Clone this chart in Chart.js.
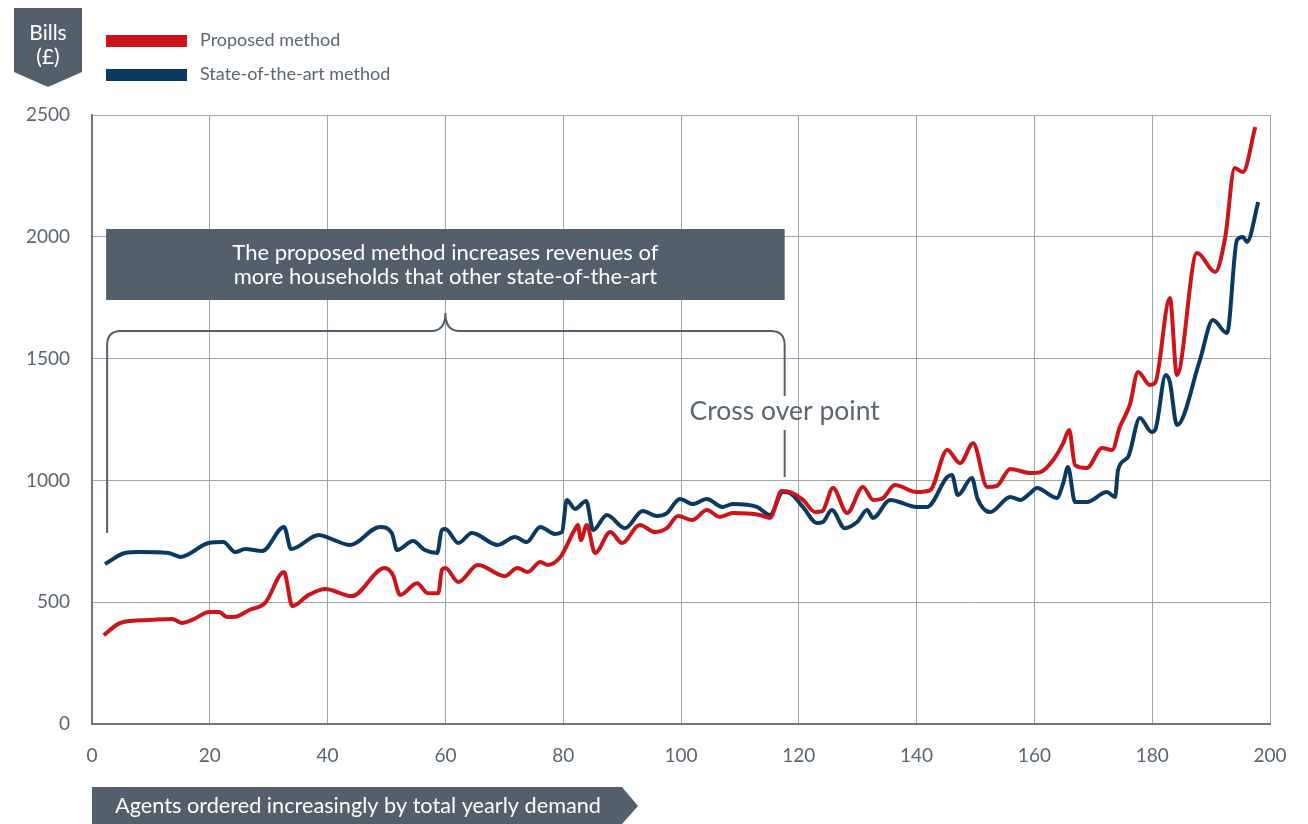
<!DOCTYPE html>
<html>
<head>
<meta charset="utf-8">
<script src="https://cdn.jsdelivr.net/npm/chart.js@4"></script>
<style>
  body { margin: 0; background: #fff; }
  canvas { display: block; }
</style>
</head>
<body>
<canvas id="myChart" width="1308" height="824"></canvas>
<script>
// agents (x) and bills (£)
var propX = [2,4.4,6.5,9.8,13.6,15.3,17,19.9,21.6,22.9,24.3,26.7,29.4,32.6,34,36.8,39.6,44.1,49.7,51.1,52.3,55.2,57,58.8,59.4,60,62.2,65.5,70.1,72.2,74,76.1,77.4,79.5,82,82.5,83,84,85.4,88,90,93,95.6,97.6,99.5,101.9,104.4,106.6,108.8,113.4,115.1,117.1,118.5,120.7,122.8,124,125.8,128.2,130.9,132.6,134.1,136.3,140,142.3,145.2,147.4,149.6,152,153.6,155.9,159.3,161,163.2,164.9,165.9,166.9,168.9,171.5,173.2,174.5,176.2,177.6,179.6,180.5,183,184.2,187.6,190.7,192.4,194,195.4,197.5];
var propY = [365,410,423,427,431,415,427,460,460,439,440,468,497,624,484,530,554,525,640,611,530,578,537,537,632,640,583,653,607,640,624,665,653,685,800,817,755,817,702,788,743,817,788,804,854,837,878,850,866,858,846,956,952,920,870,874,969,866,973,920,924,981,952,960,1125,1071,1153,973,977,1047,1030,1034,1084,1153,1207,1063,1051,1133,1125,1219,1310,1445,1392,1400,1749,1433,1933,1856,1999,2282,2266,2451];

var sotaX = [2.2,5.6,8,13,15,19.8,22.3,24.3,26,28.9,32.6,33.8,38.5,40.7,43.8,48.9,50.9,51.8,54.5,56.5,58.6,59.4,60,62.2,64.5,68.9,71.8,73.8,76.1,78.6,79.8,80.6,82,83.9,85.1,87.4,90.5,93.5,95.9,97.6,99.8,102,104.4,107,108.8,112.9,115.1,117.3,118.5,120.7,123.1,124.1,125.6,127.8,129.9,131.6,132.6,135.5,140,141.8,145.2,146,147,149.4,150.3,152.5,155.9,157.6,159.3,160.4,163.8,164.9,165.7,166.9,168.9,172.3,173.7,174.2,175.9,177.9,179.9,180.5,182.3,183,184.2,188.1,190.3,192.7,194.4,195.4,196.1,198];
var sotaY = [657,702,706,702,686,743,747,706,718,710,809,718,776,759,735,809,784,714,751,714,702,796,800,743,784,735,768,747,809,780,788,920,883,915,796,858,804,874,854,866,924,903,924,891,903,891,858,952,948,891,825,829,878,804,829,878,846,920,891,891,1014,1022,940,1010,928,870,932,920,948,969,928,989,1055,911,911,952,932,1043,1096,1256,1199,1207,1433,1404,1227,1494,1658,1605,1987,1999,1979,2143];

var seriesNames = ["Proposed method", "State-of-the-art method"];
var xTicks = [0, 20, 40, 60, 80, 100, 120, 140, 160, 180, 200];
var yTicks = [0, 500, 1000, 1500, 2000, 2500];

var RED = "#cc151b";
var BLUE = "#0b3960";
var SLATE = "#535f6b";
var TEXT = "#5a6570";
var FONT = "Lato, 'Open Sans', sans-serif";

function pts(xs, ys) {
  return xs.map(function (x, i) { return {x: x, y: ys[i]}; });
}

var extras = {
  id: "extras",
  afterDraw: function (chart) {
    var ctx = chart.ctx;
    var xs = chart.scales.x;
    ctx.save();

    // Bills (£) tag
    ctx.fillStyle = SLATE;
    ctx.beginPath();
    ctx.moveTo(14, 8);
    ctx.lineTo(82, 8);
    ctx.lineTo(82, 72);
    ctx.lineTo(48, 87);
    ctx.lineTo(14, 72);
    ctx.closePath();
    ctx.fill();
    ctx.fillStyle = "#fff";
    ctx.font = "21px " + FONT;
    ctx.textAlign = "center";
    ctx.textBaseline = "middle";
    ctx.fillText("Bills", 48, 33);
    ctx.fillText("(£)", 48, 57);

    // legend
    ctx.fillStyle = RED;
    ctx.fillRect(106, 35, 81, 12);
    ctx.fillStyle = BLUE;
    ctx.fillRect(106, 69, 81, 12);
    ctx.fillStyle = TEXT;
    ctx.font = "18px " + FONT;
    ctx.textAlign = "left";
    ctx.fillText(seriesNames[0], 200, 40);
    ctx.fillText(seriesNames[1], 200, 74);

    // annotation box
    var bx0 = xs.getPixelForValue(2.4), bx1 = xs.getPixelForValue(117.6);
    ctx.fillStyle = SLATE;
    ctx.fillRect(bx0, 229, bx1 - bx0, 71);
    ctx.fillStyle = "#fff";
    ctx.font = "22px " + FONT;
    ctx.textAlign = "center";
    var mid = xs.getPixelForValue(60);
    ctx.fillText("The proposed method increases revenues of", mid, 253);
    ctx.fillText("more households that other state-of-the-art", mid, 277);

    // bracket
    var lx = bx0 + 1, rx = xs.getPixelForValue(117.6), hy = 331, r = 14;
    ctx.strokeStyle = SLATE;
    ctx.lineWidth = 2;
    ctx.beginPath();
    ctx.moveTo(lx, 533);
    ctx.lineTo(lx, hy + r);
    ctx.quadraticCurveTo(lx, hy, lx + r, hy);
    ctx.lineTo(mid - r, hy);
    ctx.quadraticCurveTo(mid, hy, mid, hy - 18);
    ctx.quadraticCurveTo(mid, hy, mid + r, hy);
    ctx.lineTo(rx - r, hy);
    ctx.quadraticCurveTo(rx, hy, rx, hy + r);
    ctx.lineTo(rx, 396);
    ctx.moveTo(rx, 430);
    ctx.lineTo(rx, 477);
    ctx.stroke();

    ctx.fillStyle = TEXT;
    ctx.font = "26.5px " + FONT;
    ctx.textAlign = "center";
    ctx.fillText("Cross over point", rx, 411);

    // x axis title arrow
    ctx.fillStyle = SLATE;
    ctx.beginPath();
    ctx.moveTo(92, 787);
    ctx.lineTo(622, 787);
    ctx.lineTo(638, 806);
    ctx.lineTo(622, 824);
    ctx.lineTo(92, 824);
    ctx.closePath();
    ctx.fill();
    ctx.fillStyle = "#fff";
    ctx.font = "21.7px " + FONT;
    ctx.fillText("Agents ordered increasingly by total yearly demand", 358, 806);

    ctx.restore();
  }
};

new Chart("myChart", {
  type: "line",
  data: {
    datasets: [{
      label: seriesNames[0],
      data: pts(propX, propY),
      borderColor: RED,
      borderWidth: 4,
      pointRadius: 0,
      cubicInterpolationMode: "monotone"
    }, {
      label: seriesNames[1],
      data: pts(sotaX, sotaY),
      borderColor: BLUE,
      borderWidth: 4,
      pointRadius: 0,
      cubicInterpolationMode: "monotone"
    }]
  },
  options: {
    responsive: false,
    animation: false,
    layout: {padding: {top: 115, right: 38, left: 0, bottom: 0}},
    plugins: {legend: {display: false}, tooltip: {enabled: false}},
    scales: {
      x: {
        type: "linear",
        min: 0, max: 200,
        afterBuildTicks: function (s) { s.ticks = xTicks.map(function (v) { return {value: v}; }); },
        afterFit: function (s) { s.height = 100; },
        grid: {color: "#9ea4ab", lineWidth: 1, drawTicks: false},
        border: {color: "#6f777f", width: 2},
        ticks: {color: TEXT, font: {family: FONT, size: 19}, padding: 20, maxRotation: 0,
          callback: function (v) { return String(v); }}
      },
      y: {
        min: 0, max: 2500,
        afterBuildTicks: function (s) { s.ticks = yTicks.map(function (v) { return {value: v}; }); },
        afterFit: function (s) { s.width = 92; },
        grid: {color: "#9ea4ab", lineWidth: 1, drawTicks: false},
        border: {color: "#6f777f", width: 2},
        ticks: {color: TEXT, font: {family: FONT, size: 19}, padding: 22,
          callback: function (v) { return String(v); }}
      }
    }
  },
  plugins: [extras]
});
</script>
</body>
</html>
